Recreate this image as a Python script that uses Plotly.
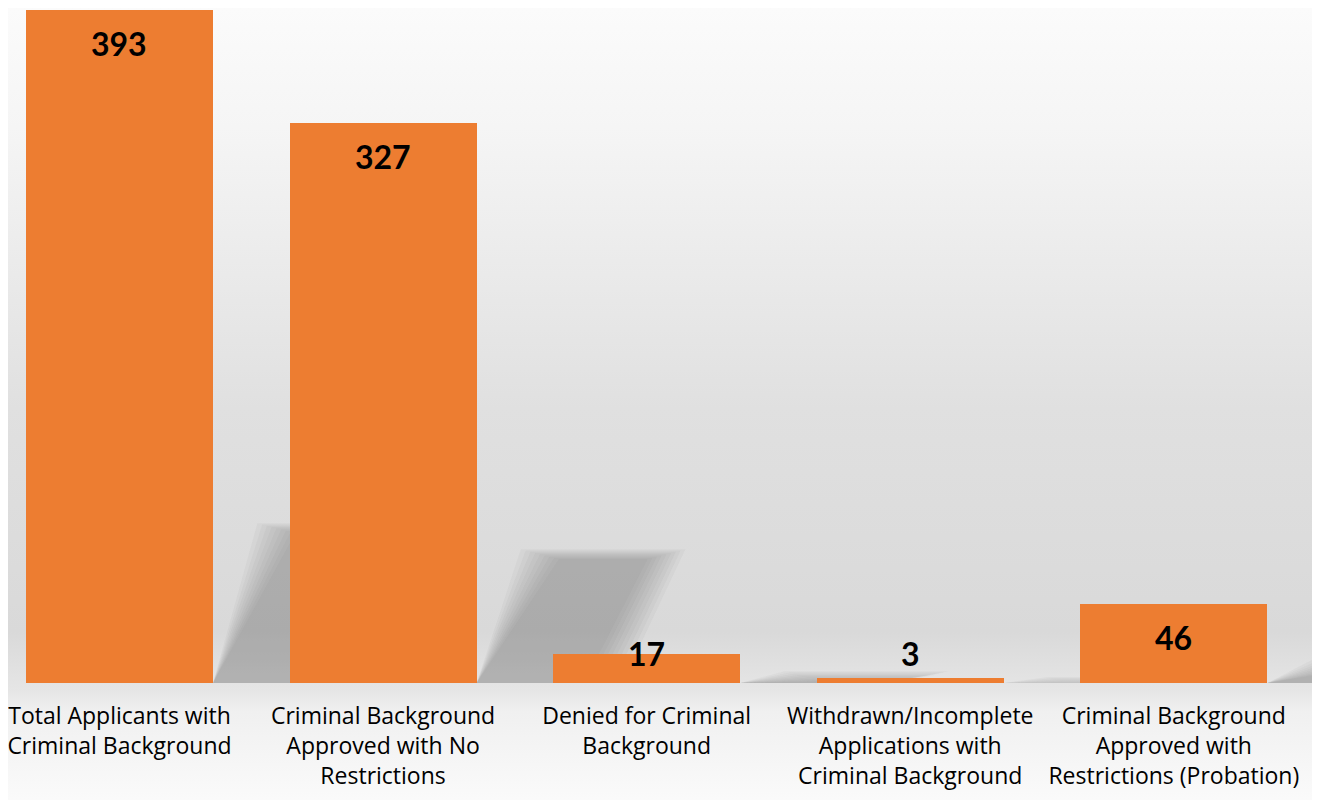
import base64
import plotly.graph_objects as go

categories = [
    "Total Applicants with<br>Criminal Background",
    "Criminal Background<br>Approved with No<br>Restrictions",
    "Denied for Criminal<br>Background",
    "Withdrawn/Incomplete<br>Applications with<br>Criminal Background",
    "Criminal Background<br>Approved with<br>Restrictions (Probation)",
]
values = [393, 327, 17, 3, 46]

BAR_COLOR = "#ED7D31"
BAR_WIDTH = 0.71

# soft gradient backdrop (style only)
svg = (
    '<svg xmlns="http://www.w3.org/2000/svg" width="10" height="800" preserveAspectRatio="none">'
    '<defs><linearGradient id="g" x1="0" y1="0" x2="0" y2="1">'
    '<stop offset="0" stop-color="#fbfbfb"/>'
    '<stop offset="0.15" stop-color="#f5f5f5"/>'
    '<stop offset="0.5" stop-color="#e0e0e0"/>'
    '<stop offset="0.78" stop-color="#d9d9d9"/>'
    '<stop offset="0.855" stop-color="#e6e6e6"/>'
    '<stop offset="0.88" stop-color="#f0f0f0"/>'
    '<stop offset="1" stop-color="#fbfbfb"/>'
    '</linearGradient></defs>'
    '<rect width="10" height="800" fill="url(#g)"/></svg>'
)
bg_src = "data:image/svg+xml;base64," + base64.b64encode(svg.encode()).decode()

fig = go.Figure()
fig.add_trace(go.Bar(
    x=list(range(len(values))),
    y=values,
    width=BAR_WIDTH,
    marker=dict(color=BAR_COLOR, line=dict(width=0)),
    hoverinfo="skip",
))

# soft shadows derived from each bar (cast toward back-right)
vmax = max(values)
shapes = []
hw = BAR_WIDTH / 2
N = 9
for i, v in enumerate(values):
    h = 0.23 * v
    for k in range(N):
        g = 0.018 * (k - N // 2)     # grow / shrink layer for a soft edge
        hh = h + g * 40
        if hh <= 0:
            continue
        x0 = i + hw
        path = (f"M {x0},0 L {x0 + 0.24 - g},{hh} L {x0 + 0.72 + g},{hh} "
                f"L {x0 + 0.48 + g},0 Z")
        shapes.append(dict(type="path", path=path, xref="x", yref="y",
                           fillcolor="rgba(110,110,110,0.055)", line=dict(width=0),
                           layer="below"))

annotations = []
for i, v in enumerate(values):
    if v >= 0.1 * vmax:
        annotations.append(dict(x=i, y=v, xref="x", yref="y", text=f"<b>{v}</b>",
                                showarrow=False, yanchor="top", yshift=-12,
                                font=dict(family="Lato", size=32, color="#000000")))
    else:
        annotations.append(dict(x=i, y=0, xref="x", yref="y", text=f"<b>{v}</b>",
                                showarrow=False, yanchor="bottom", yshift=8,
                                font=dict(family="Lato", size=32, color="#000000")))

fig.update_layout(
    width=1320, height=800,
    margin=dict(l=0, r=0, t=2, b=125),
    paper_bgcolor="#fbfbfb",
    plot_bgcolor="rgba(0,0,0,0)",
    showlegend=False,
    bargap=0,
    shapes=shapes,
    annotations=annotations,
    images=[dict(source=bg_src, xref="paper", yref="paper", x=0, y=1 + 2 / 673,
                 sizex=1, sizey=800 / 673, sizing="stretch", layer="below",
                 xanchor="left", yanchor="top")],
    xaxis=dict(
        tickmode="array", tickvals=list(range(len(values))), ticktext=categories,
        range=[-0.423, 4.585], showgrid=False, zeroline=False, showline=False,
        ticks="", ticklabelstandoff=17, ticklabeloverflow="allow",
        tickfont=dict(family="Open Sans", size=23, color="#000000"),
        fixedrange=True,
    ),
    yaxis=dict(range=[0, vmax], visible=False, showgrid=False, fixedrange=True),
)

fig.write_html("out.html")
